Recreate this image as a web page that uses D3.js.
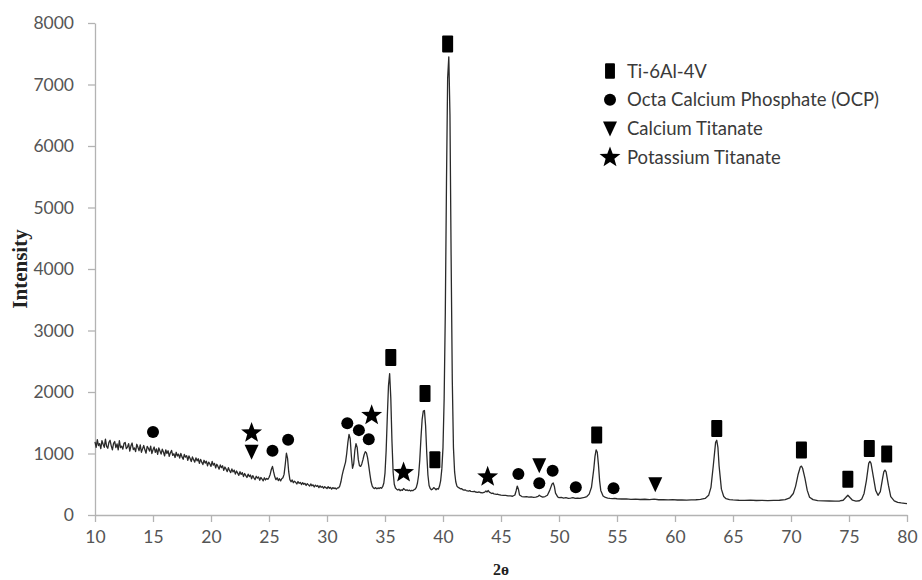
<!DOCTYPE html>
<html>
<head>
<meta charset="utf-8">
<script src="https://cdn.jsdelivr.net/npm/d3@7"></script>
<style>
  html, body { margin: 0; padding: 0; background: #fff; }
  svg { display: block; }
</style>
</head>
<body>
<svg id="chart" width="922" height="580"></svg>
<script>
// XRD scan of the coated Ti-6Al-4V surface: [2θ (deg), intensity (counts)]
const scanLow = [
  [10.0,1190],[10.1,1100],[10.2,1225],[10.3,1130],[10.4,1160],[10.5,1080],[10.6,1210],[10.7,1150],[10.8,1100],[10.9,1235],
  [11.0,1115],[11.1,1085],[11.2,1180],[11.3,1215],[11.4,1125],[11.5,1060],[11.6,1165],[11.7,1195],[11.8,1095],[11.9,1155],
  [12.0,1060],[12.1,1210],[12.2,1095],[12.3,1120],[12.4,1070],[12.5,1165],[12.6,1180],[12.7,1080],[12.8,1105],[12.9,1160],
  [13.0,1040],[13.1,1125],[13.2,1170],[13.3,1065],[13.4,1090],[13.5,1030],[13.6,1150],[13.7,1100],[13.8,1045],[13.9,1140],
  [14.0,1020],[14.1,1075],[14.2,1130],[14.3,1060],[14.4,1005],[14.5,1115],[14.6,1085],[14.7,1040],[14.8,1120],[14.9,1000],
  [15.0,1060],[15.1,1105],[15.2,1020],[15.3,1075],[15.4,985],[15.5,1090],[15.6,1040],[15.7,990],[15.8,1070],[15.9,1025],
  [16.0,960],[16.1,1060],[16.2,1000],[16.3,1045],[16.4,955],[16.5,1010],[16.6,1050],[16.7,970],[16.8,995],[16.9,935],
  [17.0,1020],[17.1,960],[17.2,990],[17.3,925],[17.4,1000],[17.5,945],[17.6,905],[17.7,985],[17.8,940],[17.9,965],
  [18.0,890],[18.1,960],[18.2,920],[18.3,870],[18.4,945],[18.5,900],[18.6,860],[18.7,930],[18.8,880],[18.9,915],
  [19.0,840],[19.1,905],[19.2,860],[19.3,820],[19.4,890],[19.5,845],[19.6,875],[19.7,800],[19.8,860],[19.9,830],
  [20.0,790],[20.1,870],[20.2,810],[20.3,840],[20.4,765],[20.5,825],[20.6,790],[20.7,745],[20.8,815],[20.9,770],
  [21.0,800],[21.1,725],[21.2,780],[21.3,745],[21.4,705],[21.5,770],[21.6,720],[21.7,690],[21.8,750],[21.9,700],
  [22.0,730],[22.1,665],[22.2,715],[22.3,680],[22.4,645],[22.5,705],[22.6,660],[22.7,690],[22.8,625],[22.9,675],
  [23.0,640],[23.1,610],[23.2,665],[23.3,625],[23.4,650],[23.5,590],[23.6,640],[23.7,605],[23.8,575],[23.9,630],
  [24.0,600],[24.1,620],[24.2,565],[24.3,610],[24.4,585],[24.5,555],[24.6,605],[24.7,570],[24.8,595],[24.9,580],
  [25.0,610],[25.1,660],[25.2,740],[25.3,790],[25.4,700],[25.5,620],[25.6,575],[25.7,605],[25.8,560],[25.9,590],
  [26.0,555],[26.1,590],[26.2,605],[26.3,660],[26.4,820],[26.5,1005],[26.6,920],[26.7,700],[26.8,575],[26.9,540],
  [27.0,570],[27.1,525],[27.2,550],[27.3,530],[27.4,505],[27.5,545],[27.6,515],[27.7,530],[27.8,495],[27.9,525],
  [28.0,500],[28.1,515],[28.2,480],[28.3,510],[28.4,490],[28.5,470],[28.6,505],[28.7,475],[28.8,490],[28.9,455],
  [29.0,485],[29.1,465],[29.2,480],[29.3,445],[29.4,475],[29.5,450],[29.6,465],[29.7,435],[29.8,460],[29.9,445],
  [30.0,430],[30.1,460],[30.2,435],[30.3,450],[30.4,420],[30.5,445],[30.6,430],[30.7,440],[30.8,420],[30.9,440]
];
const scanMid = [
  [31.0,440],[31.1,470],[31.2,540],[31.3,640],[31.4,720],[31.5,790],[31.6,860],[31.7,1000],[31.8,1180],[31.9,1310],
  [32.0,1240],[32.1,960],[32.2,760],[32.3,830],[32.4,1050],[32.5,1160],[32.6,1100],[32.7,900],[32.8,800],[32.9,790],
  [33.0,830],[33.1,900],[33.2,980],[33.3,1030],[33.4,1010],[33.5,930],[33.6,800],[33.7,660],[33.8,540],[33.9,470],
  [34.0,440],[34.1,430],[34.2,445],[34.3,425],[34.4,440],[34.5,430],[34.6,445],[34.7,435],[34.8,460],[34.9,520],
  [35.0,680],[35.1,1050],[35.2,1600],[35.3,2100],[35.4,2300],[35.5,1900],[35.6,1200],[35.7,700],[35.8,500],[35.9,440],
  [36.0,420],[36.1,405],[36.2,420],[36.3,395],[36.4,410],[36.5,400],[36.6,430],[36.7,415],[36.8,400],[36.9,410],
  [37.0,395],[37.1,405],[37.2,390],[37.3,400],[37.4,395],[37.5,410],[37.6,420],[37.7,450],[37.8,520],[37.9,650],
  [38.0,900],[38.1,1250],[38.2,1550],[38.3,1690],[38.4,1700],[38.5,1450],[38.6,1000],[38.7,650],[38.8,480],[38.9,430],
  [39.0,410],[39.1,420],[39.2,445],[39.3,430],[39.4,410],[39.5,430],[39.6,420],[39.7,470],[39.8,560],[39.9,750],
  [40.0,1100],[40.1,1900],[40.2,3300],[40.3,5400],[40.4,7100],[40.5,7450],[40.6,6500],[40.7,4200],[40.8,2200],[40.9,1100],
  [41.0,700],[41.1,540],[41.2,470],[41.3,450],[41.4,440],[41.5,425],[41.6,430],[41.7,412],[41.8,405],[41.9,410],
  [42.0,398],[42.2,390],[42.3,396],[42.4,385],[42.6,380],[42.7,386],[42.8,374],[43.0,368],[43.1,375],[43.2,366],
  [43.4,360],[43.6,372],[43.7,392],[43.8,375],[43.9,398],[44.0,372],[44.2,350],[44.3,356],[44.4,342],[44.6,337],
  [44.7,340],[44.8,330]
];
const scanHigh = [
  [45.0,322],[45.2,318],[45.4,320],[45.6,310],[45.8,312],[46.0,305],[46.2,325],[46.3,390],[46.4,470],[46.5,420],
  [46.6,325],[46.8,300],[47.0,295],[47.2,298],[47.4,290],[47.6,294],[47.8,288],[48.0,292],[48.2,302],[48.3,322],
  [48.4,308],[48.6,292],[48.8,300],[49.0,322],[49.2,400],[49.4,505],[49.5,520],[49.6,465],[49.7,355],[49.9,292],
  [50.0,282],[50.2,286],[50.4,276],[50.6,281],[50.8,272],[51.0,276],[51.2,281],[51.4,270],[51.6,276],[51.8,270],
  [52.0,280],[52.2,285],[52.4,300],[52.6,340],[52.8,450],[53.0,750],[53.1,950],[53.2,1060],[53.3,1020],[53.4,820],
  [53.5,560],[53.6,400],[53.8,310],[54.0,285],[54.2,276],[54.4,270],[54.6,266],[54.8,271],[55.0,264],[55.4,260],
  [55.8,263],[56.2,255],[56.6,259],[57.0,252],[57.4,256],[57.8,250],[58.2,257],[58.6,248],[59.0,251],[59.4,245],
  [59.8,249],[60.2,244],[60.6,247],[61.0,242],[61.4,245],[61.8,248],[62.2,255],[62.6,270],[62.9,320],[63.1,450],
  [63.3,800],[63.5,1180],[63.6,1215],[63.7,1100],[63.8,800],[64.0,420],[64.2,300],[64.4,265],[64.7,250],[65.0,245],
  [65.5,240],[66.0,238],[66.5,241],[67.0,236],[67.5,239],[68.0,235],[68.5,238],[69.0,240],[69.5,250],[69.9,280],
  [70.2,350],[70.4,470],[70.6,650],[70.8,780],[70.9,795],[71.0,760],[71.2,600],[71.4,400],[71.6,290],[71.9,250],
  [72.3,235],[72.8,231],[73.3,228],[73.8,225],[74.2,228],[74.5,240],[74.7,280],[74.9,322],[75.1,280],[75.3,240],
  [75.6,226],[75.9,232],[76.1,260],[76.3,350],[76.5,560],[76.7,840],[76.8,872],[76.9,840],[77.1,620],[77.3,400],
  [77.5,320],[77.7,380],[77.9,600],[78.0,700],[78.1,730],[78.2,700],[78.4,480],[78.6,300],[78.9,230],[79.2,205],
  [79.5,196],[79.8,190],[80.0,186]
];

// Phase identification markers, placed above the peaks they label: [2θ, intensity]
const ti64Peaks   = [[35.5,2560],[38.45,1975],[39.3,900],[40.4,7660],[53.25,1300],[63.6,1405],[70.9,1055],[74.9,580],[76.75,1080],[78.25,990]];
const ocpPeaks    = [[15.0,1350],[25.3,1045],[26.65,1225],[31.75,1490],[32.75,1380],[33.6,1230],[46.5,665],[48.3,515],[49.45,720],[51.45,450],[54.7,435]];
const caTiPeaks   = [[23.5,1030],[48.3,810],[58.3,500]];
const kTiPeaks    = [[23.5,1335],[33.85,1620],[36.6,690],[43.85,620]];

const phaseNames = ["Ti-6Al-4V", "Octa Calcium Phosphate (OCP)", "Calcium Titanate", "Potassium Titanate"];
const phaseShapes = ["rect", "circle", "triangle", "star"];
const phasePeaks = [ti64Peaks, ocpPeaks, caTiPeaks, kTiPeaks];

const xTicks = d3.range(10, 81, 5);
const yTicks = d3.range(0, 8001, 1000);

const svg = d3.select("#chart");
const x = d3.scaleLinear().domain([10, 80]).range([95, 907]);
const y = d3.scaleLinear().domain([0, 8000]).range([515, 23]);

const axisColor = "#b3b3b3";
const labelColor = "#555";
const tickFont = "Lato, 'Open Sans', sans-serif";

// axes
const gx = svg.append("g").attr("transform", `translate(0,${y(0)})`)
  .call(d3.axisBottom(x).tickValues(xTicks).tickSize(7).tickSizeOuter(0).tickPadding(9).tickFormat(d3.format("d")));
const gy = svg.append("g").attr("transform", `translate(${x(10)},0)`)
  .call(d3.axisLeft(y).tickValues(yTicks).tickSize(7).tickSizeOuter(0).tickPadding(14).tickFormat(d3.format("d")));
[gx, gy].forEach(g => {
  g.select(".domain").attr("stroke", axisColor).attr("stroke-width", 1.3);
  g.selectAll(".tick line").attr("stroke", axisColor).attr("stroke-width", 1.3);
  g.selectAll(".tick text").attr("fill", labelColor).style("font-family", tickFont).style("font-size", "17.5px");
});

// axis titles
svg.append("text")
  .attr("x", (x(10) + x(80)) / 2).attr("y", 575)
  .attr("text-anchor", "middle")
  .style("font-family", "'Liberation Serif', serif").style("font-weight", "bold").style("font-size", "16px")
  .attr("fill", "#222").text("2ɵ");
svg.append("text")
  .attr("transform", `translate(27,${(y(0) + y(8000)) / 2}) rotate(-90)`)
  .attr("text-anchor", "middle")
  .style("font-family", "'Liberation Serif', serif").style("font-weight", "bold").style("font-size", "21px")
  .attr("fill", "#222").text("Intensity");

// diffraction trace
const scan = scanLow.concat(scanMid, scanHigh);
const line = d3.line().x(d => x(d[0])).y(d => y(d[1]));
svg.append("path").datum(scan)
  .attr("d", line)
  .attr("fill", "none").attr("stroke", "#2a2a2a").attr("stroke-width", 1.3).attr("stroke-linejoin", "round");

// marker glyphs
function starPath(rOut, rIn) {
  const pts = [];
  for (let i = 0; i < 10; i++) {
    const r = i % 2 === 0 ? rOut : rIn;
    const a = -Math.PI / 2 + i * Math.PI / 5;
    pts.push([r * Math.cos(a), r * Math.sin(a)]);
  }
  return "M" + pts.map(p => p.join(",")).join("L") + "Z";
}
function drawMarker(g, shape, scale) {
  const s = scale || 1;
  if (shape === "rect") {
    g.append("rect").attr("x", -5.5 * s).attr("y", -8.5 * s).attr("width", 11 * s).attr("height", 17 * s).attr("rx", 1);
  } else if (shape === "circle") {
    g.append("circle").attr("r", 6 * s);
  } else if (shape === "triangle") {
    g.append("path").attr("d", `M${-7 * s},${-7 * s}L${7 * s},${-7 * s}L0,${8 * s}Z`);
  } else {
    g.append("path").attr("d", starPath(11 * s, 4.6 * s));
  }
}

phasePeaks.forEach((peaks, i) => {
  svg.append("g").attr("fill", "#000")
    .selectAll("g").data(peaks).join("g")
    .attr("transform", d => `translate(${x(d[0])},${y(d[1])})`)
    .each(function () { drawMarker(d3.select(this), phaseShapes[i]); });
});

// legend
const legend = svg.append("g").attr("transform", "translate(610,71)");
phaseNames.forEach((name, i) => {
  const row = legend.append("g").attr("transform", `translate(0,${i * 28.8})`).attr("fill", "#000");
  drawMarker(row, phaseShapes[i], i === 0 ? 0.9 : 1);
  row.append("text").attr("x", 17).attr("y", 6.5)
    .style("font-family", tickFont).style("font-size", "18.5px")
    .attr("fill", "#3a3a3a").text(name);
});
</script>
</body>
</html>
